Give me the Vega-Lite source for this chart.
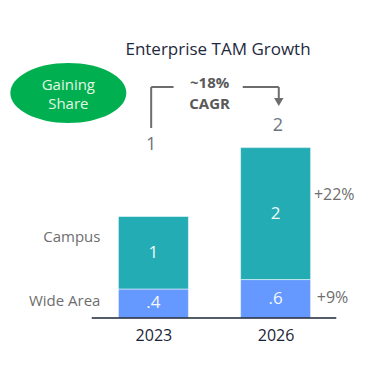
{
  "$schema": "https://vega.github.io/schema/vega-lite/v6.json",
  "width": 390,
  "height": 318,
  "autosize": {"type": "none"},
  "padding": {"top": 0, "left": 0, "right": 0, "bottom": 48},
  "background": "white",
  "config": {"view": {"stroke": null}, "font": "Open Sans"},
  "title": {
    "text": "Enterprise TAM Growth",
    "anchor": "middle",
    "frame": "group",
    "dx": 23,
    "offset": -59,
    "fontSize": 17,
    "fontWeight": "normal",
    "color": "#1f2940",
    "font": "Open Sans"
  },
  "data": {
    "values": [
      {"year": 2023, "segment": "Wide Area", "value": 0.4, "label": ".4"},
      {"year": 2023, "segment": "Campus", "value": 1.0, "label": "1"},
      {"year": 2026, "segment": "Wide Area", "value": 0.53, "label": ".6"},
      {"year": 2026, "segment": "Campus", "value": 1.82, "label": "2"}
    ]
  },
  "layer": [
    {
      "mark": {"type": "bar", "width": 70, "stroke": "white", "strokeOpacity": 0.5, "strokeWidth": 1},
      "encoding": {
        "x": {
          "field": "year", "type": "quantitative",
          "scale": {"domain": [2019.356, 2028.686], "nice": false, "zero": false},
          "axis": {"values": [2023, 2026], "format": "d", "domain": false, "ticks": false, "grid": false, "title": null, "labelFontSize": 16, "labelColor": "#1b2437", "labelPadding": 9, "labelFont": "Open Sans"}
        },
        "y": {
          "field": "value", "type": "quantitative", "stack": "zero",
          "scale": {"domain": [0, 4.386], "nice": false},
          "axis": null
        },
        "color": {
          "field": "segment", "type": "nominal",
          "scale": {"domain": ["Wide Area", "Campus"], "range": ["#6699ff", "#23acb4"]},
          "legend": null
        },
        "order": {"field": "segment", "sort": "descending"}
      }
    },
    {
      "mark": {"type": "text", "fontSize": 17, "color": "#f2f8f8", "baseline": "middle", "align": "center"},
      "encoding": {
        "x": {"field": "year", "type": "quantitative"},
        "y": {"field": "value", "type": "quantitative", "stack": "zero", "bandPosition": 0.5},
        "text": {"field": "label"},
        "detail": {"field": "segment"},
        "order": {"field": "segment", "sort": "descending"}
      }
    },
    {
      "data": {"values": [{}]},
      "mark": {"type": "rule", "color": "#1b2437", "strokeWidth": 1.5},
      "encoding": {"x": {"datum": 2021.485}, "x2": {"datum": 2027.49}, "y": {"datum": 0}}
    },
    {
      "data": {"values": [{}]},
      "mark": {"type": "text", "fontSize": 15, "color": "#6e6e6e", "align": "right", "baseline": "middle"},
      "encoding": {"x": {"datum": 2021.70}, "y": {"datum": 1.117}, "text": {"value": "Campus"}}
    },
    {
      "data": {"values": [{}]},
      "mark": {"type": "text", "fontSize": 15, "color": "#6e6e6e", "align": "right", "baseline": "middle"},
      "encoding": {"x": {"datum": 2021.70}, "y": {"datum": 0.234}, "text": {"value": "Wide Area"}}
    },
    {
      "data": {"values": [{}]},
      "mark": {"type": "text", "fontSize": 16, "color": "#6e6e6e", "align": "left", "baseline": "middle"},
      "encoding": {"x": {"datum": 2026.94}, "y": {"datum": 1.69}, "text": {"value": "+22%"}}
    },
    {
      "data": {"values": [{}]},
      "mark": {"type": "text", "fontSize": 16, "color": "#6e6e6e", "align": "left", "baseline": "middle"},
      "encoding": {"x": {"datum": 2027.01}, "y": {"datum": 0.276}, "text": {"value": "+9%"}}
    },
    {
      "data": {"values": [{}]},
      "mark": {"type": "text", "fontSize": 18, "color": "#6b7580", "align": "center", "baseline": "middle"},
      "encoding": {"x": {"datum": 2022.945}, "y": {"datum": 2.386}, "text": {"value": "1"}}
    },
    {
      "data": {"values": [{}]},
      "mark": {"type": "text", "fontSize": 18, "color": "#6b7580", "align": "center", "baseline": "middle"},
      "encoding": {"x": {"datum": 2026.055}, "y": {"datum": 2.648}, "text": {"value": "2"}}
    },
    {
      "data": {"values": [{}]},
      "mark": {"type": "rule", "color": "#6d6d6d", "strokeWidth": 2},
      "encoding": {"x": {"datum": 2022.945}, "y": {"datum": 2.621}, "y2": {"datum": 3.186}}
    },
    {
      "data": {"values": [{}]},
      "mark": {"type": "rule", "color": "#6d6d6d", "strokeWidth": 2},
      "encoding": {"x": {"datum": 2022.945}, "x2": {"datum": 2023.495}, "y": {"datum": 3.186}}
    },
    {
      "data": {"values": [{}]},
      "mark": {"type": "rule", "color": "#6d6d6d", "strokeWidth": 2},
      "encoding": {"x": {"datum": 2025.193}, "x2": {"datum": 2026.078}, "y": {"datum": 3.186}}
    },
    {
      "data": {"values": [{}]},
      "mark": {"type": "rule", "color": "#6d6d6d", "strokeWidth": 2},
      "encoding": {"x": {"datum": 2026.078}, "y": {"datum": 3.186}, "y2": {"datum": 3.0}}
    },
    {
      "data": {"values": [{}]},
      "mark": {"type": "point", "shape": "triangle-down", "filled": true, "color": "#6d6d6d", "size": 90, "opacity": 1},
      "encoding": {"x": {"datum": 2026.078}, "y": {"datum": 2.979}}
    },
    {
      "data": {"values": [{}]},
      "mark": {"type": "text", "fontSize": 15, "fontWeight": "bold", "color": "#595959", "align": "center", "baseline": "middle"},
      "encoding": {"x": {"datum": 2024.38}, "y": {"datum": 3.235}, "text": {"value": "~18%"}}
    },
    {
      "data": {"values": [{}]},
      "mark": {"type": "text", "fontSize": 15, "fontWeight": "bold", "color": "#595959", "align": "center", "baseline": "middle"},
      "encoding": {"x": {"datum": 2024.38}, "y": {"datum": 2.955}, "text": {"value": "CAGR"}}
    },
    {
      "data": {"values": [{}]},
      "mark": {"type": "point", "shape": "M -1 0 A 1 0.517 0 1 1 1 0 A 1 0.517 0 1 1 -1 0 Z", "filled": true, "color": "#00b050", "size": 13456, "opacity": 1, "strokeWidth": 0},
      "encoding": {"x": {"datum": 2020.911}, "y": {"datum": 3.103}}
    },
    {
      "data": {"values": [{}]},
      "mark": {"type": "text", "fontSize": 15, "color": "#e4f5e4", "align": "center", "baseline": "middle"},
      "encoding": {"x": {"datum": 2020.911}, "y": {"datum": 3.214}, "text": {"value": "Gaining"}}
    },
    {
      "data": {"values": [{}]},
      "mark": {"type": "text", "fontSize": 15, "color": "#e4f5e4", "align": "center", "baseline": "middle"},
      "encoding": {"x": {"datum": 2020.911}, "y": {"datum": 2.952}, "text": {"value": "Share"}}
    }
  ]
}
